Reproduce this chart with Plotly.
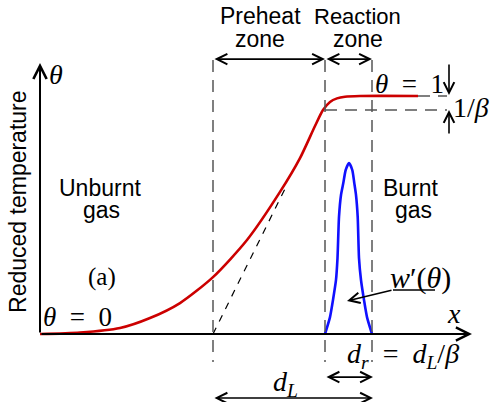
import plotly.graph_objects as go

# ---- data (x in arbitrary length units, theta = reduced temperature) ----
x_temp = [0.0, 0.4, 0.8, 1.1, 1.4, 1.73, 2.07, 2.4, 2.6, 2.75, 2.83, 2.9, 2.97, 3.05, 3.2, 3.78]
theta_temp = [0.0, 0.006, 0.025, 0.067, 0.13, 0.239, 0.395, 0.597, 0.739, 0.874, 0.941, 0.975, 0.99, 0.997, 1.0, 1.0]

x_rate = [2.85, 2.90, 2.93, 2.96, 2.975, 2.99, 3.01, 3.033, 3.057, 3.09, 3.123, 3.143, 3.16, 3.177, 3.19, 3.21, 3.24, 3.27, 3.32]
w_rate = [0.0, 0.071, 0.143, 0.227, 0.319, 0.492, 0.584, 0.634, 0.689, 0.718, 0.689, 0.634, 0.584, 0.492, 0.319, 0.227, 0.143, 0.071, 0.0]

# zone boundaries and levels
x_preheat = 1.73
x_react0 = 2.85
x_react1 = 3.32
theta_burnt = 1.0
theta_inner = 0.941     # 1 - 1/beta
tangent_x = [1.73, 2.45]
tangent_y = [0.0, 0.61]

X0, X1 = -0.4, 4.57
Y0, Y1 = -0.2857, 1.4034

fig = go.Figure()
fig.add_trace(go.Scatter(x=x_temp, y=theta_temp, mode="lines",
                         line=dict(color="#cc0000", width=2.6, shape="spline", smoothing=0.7),
                         hoverinfo="skip"))
fig.add_trace(go.Scatter(x=x_rate, y=w_rate, mode="lines",
                         line=dict(color="#1010ff", width=2.6, shape="spline", smoothing=0.6),
                         hoverinfo="skip"))
fig.add_trace(go.Scatter(x=tangent_x, y=tangent_y, mode="lines",
                         line=dict(color="black", width=1.2, dash="7px,7px"),
                         hoverinfo="skip"))

shapes = []
gray = "#555555"
for xv in [x_preheat, x_react0, x_react1]:
    shapes.append(dict(type="line", x0=xv, x1=xv, y0=1.151, y1=-0.118, xref="x", yref="y",
                       line=dict(color=gray, width=1.5, dash="12px,8px")))
shapes.append(dict(type="line", x0=x_react0, x1=4.07, y0=theta_inner, y1=theta_inner,
                   line=dict(color=gray, width=1.5, dash="12px,8px")))
shapes.append(dict(type="line", x0=3.78, x1=4.07, y0=theta_burnt, y1=theta_burnt,
                   line=dict(color=gray, width=1.5, dash="12px,8px")))
shapes.append(dict(type="line", x0=3.95, x1=3.53, y0=0.185, y1=0.185,
                   line=dict(color="black", width=1.5)))
fig.update_layout(shapes=shapes)

def arrow(x, y, ax, ay, both=False, width=1.6):
    fig.add_annotation(x=x, y=y, ax=ax, ay=ay, xref="x", yref="y", axref="x", ayref="y",
                       text="", showarrow=True, arrowhead=5, startarrowhead=5,
                       arrowside="end+start" if both else "end",
                       arrowsize=1.3, startarrowsize=1.3, arrowwidth=width,
                       arrowcolor="black", standoff=0, startstandoff=0)

# axes
arrow(0, 1.139, 0, 0, width=2)
arrow(4.32, 0, 0, 0, width=2)
# zone arrows
arrow(x_react0, 1.155, x_preheat, 1.155, both=True)
arrow(x_react1, 1.155, x_react0, 1.155, both=True)
arrow(x_react1 + 0.01, -0.181, x_react0, -0.181, both=True)
arrow(x_react1 + 0.01, -0.269, x_preheat, -0.269, both=True)
# 1/beta arrows
arrow(4.09, 1.004, 4.09, 1.139)
arrow(4.09, 0.941, 4.09, 0.836)
# w' arrow
arrow(3.07, 0.139, 3.53, 0.185)

def label(x, y, text, size=23, family="Liberation Sans", angle=0):
    fig.add_annotation(x=x, y=y, xref="x", yref="y", text=text, showarrow=False,
                       font=dict(family=family, size=size, color="black"),
                       textangle=angle, xanchor="center", yanchor="middle")

serif = "Liberation Serif"
sp = "\u2002"
label(2.2, 1.336, "Preheat")
label(2.2, 1.239, "zone")
label(3.17, 1.336, "Reaction", size=22)
label(3.18, 1.239, "zone")
label(0.6, 0.613, "Unburnt")
label(0.61, 0.521, "gas")
label(3.71, 0.613, "Burnt")
label(3.73, 0.521, "gas")
label(-0.22, 0.555, "Reduced temperature")
fig.layout.annotations[-1].textangle = -90
label(0.62, 0.239, "(a)", size=25, family=serif)
label(0.37, 0.071, "<i>θ</i>" + sp + "=" + sp + "0", size=27, family=serif)
label(0.16, 1.092, "<i>θ</i>", size=28, family=serif)
label(4.14, 0.088, "<i>x</i>", size=28, family=serif)
label(3.69, 1.05, "<i>θ</i>" + sp + "=" + sp + "1", size=27, family=serif)
label(4.31, 0.95, "1/<i>β</i>", size=28, family=serif)
label(3.8, 0.235, "<i>w</i>′(<i>θ</i>)", size=30, family=serif)
label(3.63, -0.092, "<i>d<sub>r</sub></i>" + sp + "=" + sp + "<i>d<sub>L</sub></i>/<i>β</i>", size=28, family=serif)
label(2.45, -0.206, "<i>d<sub>L</sub></i>", size=28, family=serif)

fig.update_layout(width=497, height=402, margin=dict(l=0, r=0, t=0, b=0),
                  paper_bgcolor="white", plot_bgcolor="white", showlegend=False,
                  xaxis=dict(range=[X0, X1], visible=False, fixedrange=True),
                  yaxis=dict(range=[Y0, Y1], visible=False, fixedrange=True))
fig.write_html("out.html", config={"displayModeBar": False},
               post_script="document.body.style.margin='0';document.body.style.overflow='hidden';")
